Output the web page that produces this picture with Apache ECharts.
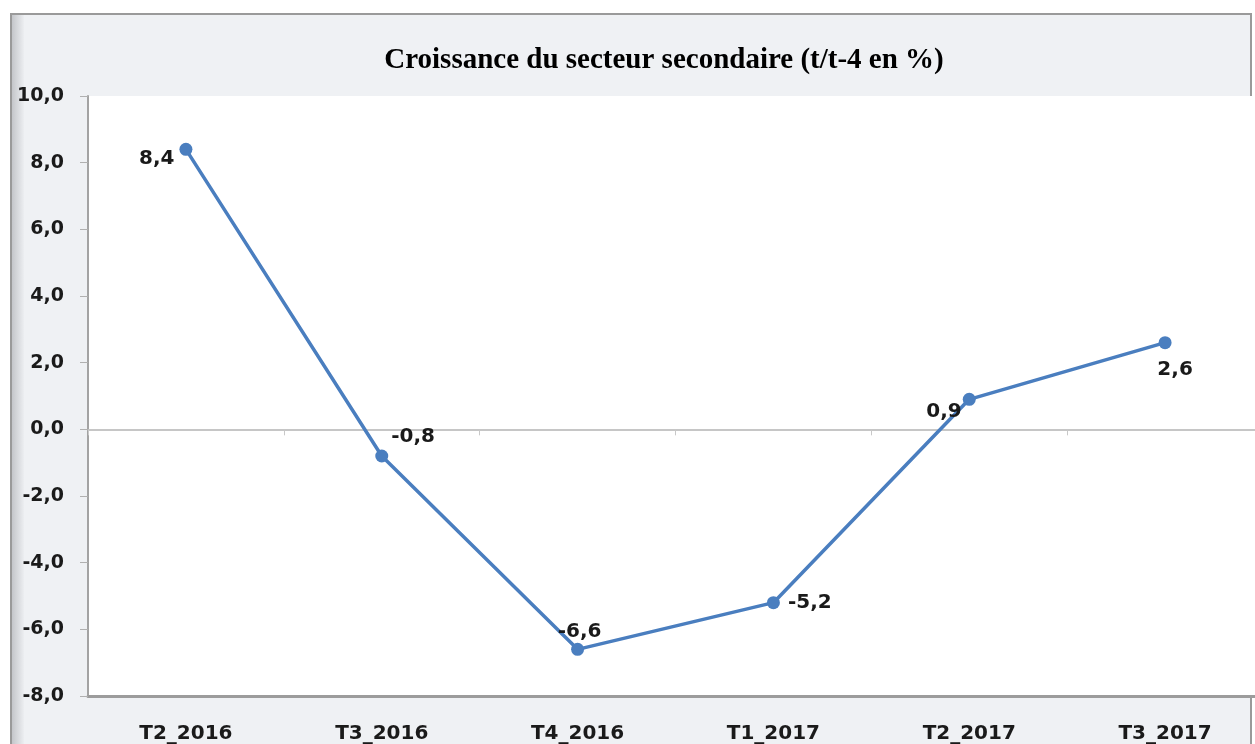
<!DOCTYPE html>
<html>
<head>
<meta charset="utf-8">
<script src="https://cdn.jsdelivr.net/npm/echarts@6/dist/echarts.min.js"></script>
<style>
  html, body { margin: 0; padding: 0; background: #fff; overflow: hidden; }
  #chart { width: 1263px; height: 744px; }
</style>
</head>
<body>
<div id="chart"></div>
<script>
// quarters and growth (t/t-4, %)
const quarters = ['T2_2016', 'T3_2016', 'T4_2016', 'T1_2017', 'T2_2017', 'T3_2017'];
const growth = [8.4, -0.8, -6.6, -5.2, 0.9, 2.6];

const fmt = v => v.toFixed(1).replace('.', ',');

// where each data label sits relative to its point
const labelSpots = [
  { position: 'left', offset: [0, 9] },
  { position: 'right', offset: [-2, -19] },
  { position: 'top', offset: [2, 4] },
  { position: 'right', offset: [3, 0] },
  { position: 'left', offset: [4, 12] },
  { position: 'bottom', offset: [10, 6] },
];

const chart = echarts.init(document.getElementById('chart'));

chart.setOption({
  animation: false,
  textStyle: { fontFamily: 'DejaVu Sans' },
  title: {
    text: 'Croissance du secteur secondaire (t/t-4 en %)',
    left: 659,
    textAlign: 'center',
    top: 41,
    textStyle: {
      fontFamily: 'Liberation Serif',
      fontWeight: 'bold',
      fontSize: 29,
      color: '#000',
    },
  },
  graphic: [
    {
      type: 'rect',
      z: -10,
      shape: { x: 11, y: 14, width: 1240, height: 740 },
      style: { fill: '#eff1f4', stroke: '#9a9a9a', lineWidth: 2 },
    },
    {
      type: 'rect',
      z: -9,
      shape: { x: 12, y: 15, width: 12, height: 740 },
      style: {
        fill: new echarts.graphic.LinearGradient(0, 0, 1, 0, [
          { offset: 0, color: '#c4c6ca' },
          { offset: 1, color: '#eceef1' },
        ]),
      },
    },
  ],
  grid: {
    left: 88,
    right: 0,
    top: 96,
    bottom: 47,
    show: true,
    backgroundColor: '#ffffff',
    borderWidth: 0,
  },
  xAxis: [
    {
      type: 'category',
      data: quarters,
      position: 'bottom',
      axisLine: { onZero: false, lineStyle: { color: '#9c9c9c', width: 3 } },
      axisTick: { show: false },
      axisLabel: {
        margin: 28,
        fontSize: 20,
        fontWeight: 'bold',
        color: '#1a1a1a',
      },
    },
    {
      type: 'category',
      data: quarters,
      position: 'bottom',
      axisLine: { onZero: true, lineStyle: { color: '#b4b4b4', width: 1.5 } },
      axisTick: { show: true, length: 6, lineStyle: { color: '#c8c8c8' } },
      axisLabel: { show: false },
    },
  ],
  yAxis: {
    type: 'value',
    min: -8,
    max: 10,
    interval: 2,
    splitLine: { show: false },
    axisLine: { show: true, lineStyle: { color: '#a3a3a3', width: 2 } },
    axisTick: { show: true, length: 8, lineStyle: { color: '#b0b0b0' } },
    axisLabel: {
      formatter: fmt,
      margin: 24,
      fontSize: 19,
      fontWeight: 'bold',
      color: '#1a1a1a',
    },
  },
  series: [
    {
      type: 'line',
      xAxisIndex: 0,
      data: growth.map((v, i) => ({ value: v, label: labelSpots[i] })),
      color: '#4a7ebf',
      lineStyle: { width: 3.5 },
      symbol: 'circle',
      symbolSize: 13,
      label: {
        show: true,
        formatter: p => fmt(p.value),
        fontSize: 20,
        fontWeight: 'bold',
        color: '#1a1a1a',
        distance: 5,
      },
    },
  ],
});
</script>
</body>
</html>
